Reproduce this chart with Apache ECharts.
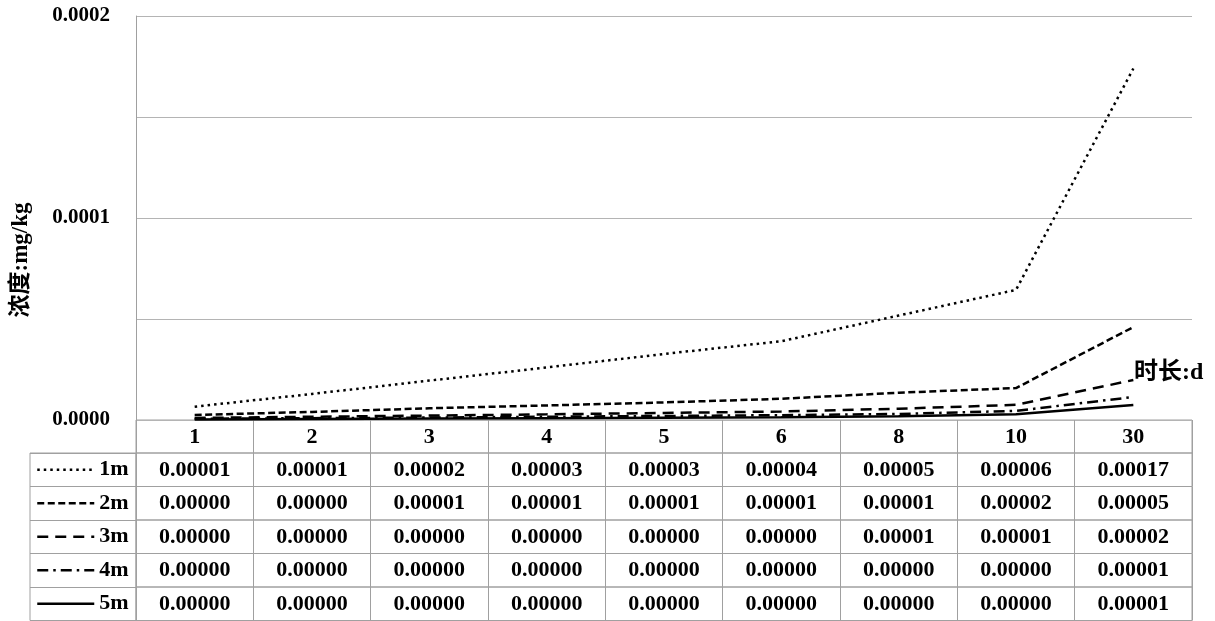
<!DOCTYPE html>
<html><head><meta charset="utf-8">
<script src="https://cdn.jsdelivr.net/npm/echarts@6/dist/echarts.min.js"></script>
<style>html,body{margin:0;padding:0;background:#fff}#c{width:1215px;height:621px}</style>
</head><body><div id="c"></div>
<script>
const categories = ['1','2','3','4','5','6','8','10','30'];
const seriesNames = ['1m','2m','3m','4m','5m'];
const s1m = [0.0000066, 0.0000129, 0.0000195, 0.0000260, 0.0000327, 0.0000390, 0.0000517, 0.0000644, 0.0001740];
const s2m = [0.0000025, 0.0000040, 0.0000058, 0.0000072, 0.0000087, 0.0000105, 0.0000135, 0.0000158, 0.0000460];
const s3m = [0.0000010, 0.0000016, 0.0000022, 0.0000028, 0.0000035, 0.0000042, 0.0000056, 0.0000075, 0.0000198];
const s4m = [0.0000006, 0.0000009, 0.0000012, 0.0000016, 0.0000020, 0.0000024, 0.0000030, 0.0000045, 0.0000114];
const s5m = [0.0000003, 0.0000005, 0.0000007, 0.0000009, 0.0000011, 0.0000013, 0.0000019, 0.0000028, 0.0000074];
const yTitle = '浓度:mg/kg';
const xTitle = '时长:d';

const allSeries = [s1m, s2m, s3m, s4m, s5m];
const dashTypes = [[2.5, 4], [7, 3.5], [11, 7], [11, 5, 2.5, 5], 'solid'];
const widths = [2.5, 2.5, 2.5, 2.5, 2.5];

const SERIF = '"Liberation Serif","Times New Roman","Noto Sans CJK SC",serif';
const CJK = '"Liberation Serif","Noto Sans CJK SC",serif';
const FS = 22;
const GRID_C = '#b4b4b4';
const TAB_C = '#a0a0a0';
const L = 136, R = 23, TOP = 16, BASE = 420, HDR = 33, ROW = 33.5;
const LH = 22;

const grids = [
  {left: L, right: R, top: TOP, height: BASE - TOP, show: false},
  {left: L, right: R, top: BASE, height: HDR, show: true, borderColor: TAB_C, borderWidth: 1}
];
for (let i = 0; i < 5; i++) grids.push({left: L, right: R, top: BASE + HDR + ROW * i, height: ROW, show: true, borderColor: TAB_C, borderWidth: 1});
grids.push({left: 30, width: L - 30, top: BASE + HDR, height: ROW * 5, show: true, borderColor: TAB_C, borderWidth: 1});

const lbl = {color: '#000', fontFamily: SERIF, fontWeight: 'bold', fontSize: FS};

const xAxes = [
  {gridIndex: 0, type: 'category', data: categories, boundaryGap: true,
   axisLine: {show: false}, axisTick: {show: false},
   axisLabel: Object.assign({interval: 0, margin: 6}, lbl)},
  {gridIndex: 1, type: 'category', data: categories, boundaryGap: true,
   axisLine: {show: false}, axisTick: {show: false}, axisLabel: {show: false},
   splitLine: {show: true, interval: 0, lineStyle: {color: TAB_C, width: 1}}}
];
for (let i = 0; i < 5; i++) {
  xAxes.push({gridIndex: 2 + i, type: 'category', position: 'top', boundaryGap: true,
    data: allSeries[i].map(v => v.toFixed(5)),
    axisLine: {show: false}, axisTick: {show: false},
    axisLabel: Object.assign({interval: 0, inside: true, margin: 6}, lbl),
    splitLine: {show: true, interval: 0, lineStyle: {color: TAB_C, width: 1}}});
}
xAxes.push({gridIndex: 7, type: 'value', show: false});

const yAxes = [
  {gridIndex: 0, type: 'value', min: 0, max: 0.0002, interval: 0.0001,
   axisLine: {show: true, lineStyle: {color: TAB_C, width: 1}}, axisTick: {show: false},
   axisLabel: Object.assign({margin: 26, formatter: v => v.toFixed(4)}, lbl, {fontSize: 21}),
   splitLine: {show: true, lineStyle: {color: GRID_C, width: 1}},
   minorTick: {show: false, splitNumber: 2},
   minorSplitLine: {show: true, lineStyle: {color: GRID_C, width: 1}}}
];
for (let i = 1; i <= 6; i++) yAxes.push({gridIndex: i, type: 'value', show: false});
yAxes.push({gridIndex: 7, type: 'category', data: seriesNames, inverse: true,
  axisLine: {show: false}, axisTick: {show: false}, axisLabel: {show: false},
  splitLine: {show: true, interval: 0, lineStyle: {color: TAB_C, width: 1}}});

const series = allSeries.map((d, i) => ({
  name: seriesNames[i], type: 'line', xAxisIndex: 0, yAxisIndex: 0, data: d,
  symbol: 'none', showSymbol: false, smooth: false, silent: true,
  lineStyle: {color: '#000', width: widths[i], type: dashTypes[i], cap: 'butt'},
  itemStyle: {color: '#000'}
}));

const chart = echarts.init(document.getElementById('c'), null, {renderer: 'canvas'});
chart.setOption({
  animation: false,
  backgroundColor: '#fff',
  grid: grids,
  xAxis: xAxes,
  yAxis: yAxes,
  legend: {
    data: seriesNames, orient: 'vertical', left: 36, top: BASE + HDR + (ROW - LH) / 2,
    height: ROW * 5, padding: 0,
    itemWidth: 57, itemHeight: LH, itemGap: ROW - LH, selectedMode: false,
    itemStyle: {opacity: 0, borderWidth: 0},
    lineStyle: {width: 2.5},
    textStyle: Object.assign({lineHeight: LH}, lbl)
  },
  graphic: [
    {type: 'text', x: 21, y: 260, rotation: Math.PI / 2,
     style: {text: yTitle, fill: '#000', font: 'bold 23px ' + CJK, textAlign: 'center', textVerticalAlign: 'middle'}},
    {type: 'text', x: 1134, y: 373,
     style: {text: xTitle, fill: '#000', font: 'bold 24px ' + CJK, textAlign: 'left', textVerticalAlign: 'middle'}}
  ],
  series: series
});
</script></body></html>
